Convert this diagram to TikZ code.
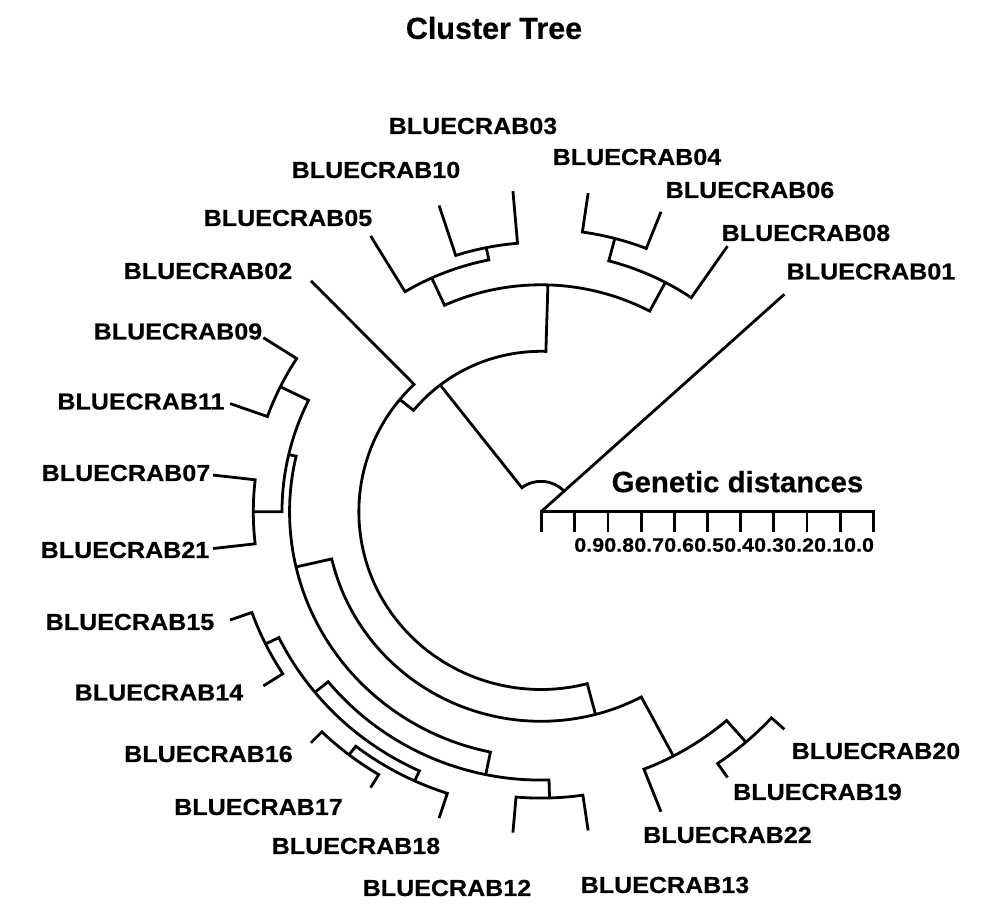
\documentclass[tikz,border=0pt]{standalone}
\usepackage{fontspec}
\setmainfont{Liberation Sans}
\newfontfamily\labfont{Liberation Sans}[FakeStretch=1.08, FakeBold=0.4]
\newfontfamily\numfont{Liberation Sans}[FakeStretch=1.1, FakeBold=0.3]
\newfontfamily\ttlfont{Liberation Sans}[FakeBold=0.4]
\begin{document}
\begin{tikzpicture}[x=1pt,y=1pt,
  tree/.style={line width=2.8pt, line join=miter, line cap=butt},
  lab/.style={font=\labfont\fontsize{23.2}{24}\selectfont\bfseries, inner sep=0pt},
  ttl/.style={font=\ttlfont\fontsize{30.5}{32}\selectfont\bfseries, inner sep=0pt},
  gd/.style={font=\ttlfont\fontsize{29.4}{30}\selectfont\bfseries, inner sep=0pt},
  num/.style={font=\numfont\fontsize{19.5}{20}\selectfont\bfseries, inner sep=0pt}]
\useasboundingbox (0,0) rectangle (987,903);
\fill[white] (0,0) rectangle (987,903);
\node[ttl] (title) at (494,875) {Cluster Tree};
% scale bar
\coordinate (s0) at (541.7,391.2);
\coordinate (s10) at (873.3,391.2);
\draw[tree, line cap=rect] (s0) -- (s10);
\foreach \k in {0,...,10} {
  \coordinate (tk\k) at ({541.7+33.16*\k},391.2);
  \coordinate (tb\k) at ({541.7+33.16*\k},371.2);
  \draw[tree] (tk\k) -- (tb\k);
}
\foreach \v [count=\j from 0] in {0.9,0.8,0.7,0.6,0.5,0.4,0.3,0.2,0.1,0.0} {
  \node[num] (n\j) at ({589.2+29.98*\j},358) {\v};
}
\node[gd] (gdist) at (737.5,421.3) {Genetic distances};
% tree
\begin{scope}[shift={(541,391.2)}, xscale=1.025]
\coordinate (C) at (0,0);
\foreach \n/\a in {01/42.5,08/55.6,06/68.69,04/81.79,03/94.88,10/107.98,05/121.07,02/134.17,
  09/147.26,11/160.36,07/173.45,21/186.55,15/199.64,14/212.74,16/225.83,17/238.93,18/252.02,
  12/265.12,13/278.21,22/291.31,19/304.40,20/317.50}
  \coordinate (t\n) at (\a:322);
\coordinate (A) at (127.8:160.5);
\coordinate (B) at (88.3:227);
\coordinate (F) at (114.5:257);
\coordinate (G) at (101.43:269.5);
\coordinate (H) at (62.14:259.5);
\coordinate (I) at (75.24:282.7);
\coordinate (E) at (140.8:177.7);
\coordinate (J) at (284.7:209.5);
\coordinate (K) at (297.86:276.3);
\coordinate (M) at (310.95:305);
\coordinate (U) at (193:245.3);
\coordinate (S) at (166.9:252.7);
\coordinate (Q) at (153.81:283.4);
\coordinate (T) at (180:280.7);
\coordinate (P) at (258.4:268.3);
\coordinate (X) at (219.3:285);
\coordinate (W) at (206.19:299.5);
\coordinate (Z) at (245.4:296);
\coordinate (Y) at (232.38:306.8);
\coordinate (N) at (271.67:286.3);
\coordinate (R1) at (42.5:30.5);
\draw[tree] (C) -- (R1);
\draw[tree] (t01) -- (R1) arc[start angle=42.5, end angle=127.8, radius=30.5pt] -- (A);
\draw[tree] (B) -- (88.3:160.5) arc[start angle=88.3, end angle=140.8, radius=160.5pt] -- (E);
\draw[tree] (H) -- (62.14:227) arc[start angle=62.14, end angle=114.5, radius=227pt] -- (F);
\draw[tree] (G) -- (101.43:257) arc[start angle=101.43, end angle=121.07, radius=257pt] -- (t05);
\draw[tree] (t03) -- (94.88:269.5) arc[start angle=94.88, end angle=107.98, radius=269.5pt] -- (t10);
\draw[tree] (t08) -- (55.6:259.5) arc[start angle=55.6, end angle=75.24, radius=259.5pt] -- (I);
\draw[tree] (t06) -- (68.69:282.7) arc[start angle=68.69, end angle=81.79, radius=282.7pt] -- (t04);
\draw[tree] (t02) -- (134.17:177.7) arc[start angle=134.17, end angle=284.7, radius=177.7pt] -- (J);
\draw[tree] (U) -- (193:209.5) arc[start angle=193, end angle=297.86, radius=209.5pt] -- (K);
\draw[tree] (t22) -- (291.31:276.3) arc[start angle=291.31, end angle=310.95, radius=276.3pt] -- (M);
\draw[tree] (t19) -- (304.40:305) arc[start angle=304.40, end angle=317.50, radius=305pt] -- (t20);
\draw[tree] (S) -- (166.9:245.3) arc[start angle=166.9, end angle=258.4, radius=245.3pt] -- (P);
\draw[tree] (Q) -- (153.81:252.7) arc[start angle=153.81, end angle=180, radius=252.7pt] -- (T);
\draw[tree] (t09) -- (147.26:283.4) arc[start angle=147.26, end angle=160.36, radius=283.4pt] -- (t11);
\draw[tree] (t07) -- (173.45:280.7) arc[start angle=173.45, end angle=186.55, radius=280.7pt] -- (t21);
\draw[tree] (X) -- (219.3:268.3) arc[start angle=219.3, end angle=271.67, radius=268.3pt] -- (N);
\draw[tree] (W) -- (206.19:285) arc[start angle=206.19, end angle=245.4, radius=285pt] -- (Z);
\draw[tree] (t15) -- (199.64:299.5) arc[start angle=199.64, end angle=212.74, radius=299.5pt] -- (t14);
\draw[tree] (Y) -- (232.38:296) arc[start angle=232.38, end angle=252.02, radius=296pt] -- (t18);
\draw[tree] (t16) -- (225.83:306.8) arc[start angle=225.83, end angle=238.93, radius=306.8pt] -- (t17);
\draw[tree] (t12) -- (265.12:286.3) arc[start angle=265.12, end angle=278.21, radius=286.3pt] -- (t13);
\end{scope}
% labels
\foreach \n/\x/\y in {01/871/271.5,02/208/271,03/473/126,04/637/157,05/288/218,06/750/190,
  07/126/473,08/806/233,09/178/331.5,10/376/170,11/141/401.5,12/447/888,13/665/885,
  14/159/692.5,15/130/622,16/208.5/754,17/258.5/807,18/356/846,19/817.5/792,20/876/751,
  21/125/550,22/727.5/835}
  \node[lab] (l\n) at (\x,{903-\y}) {BLUECRAB\n};
\end{tikzpicture}
\end{document}
